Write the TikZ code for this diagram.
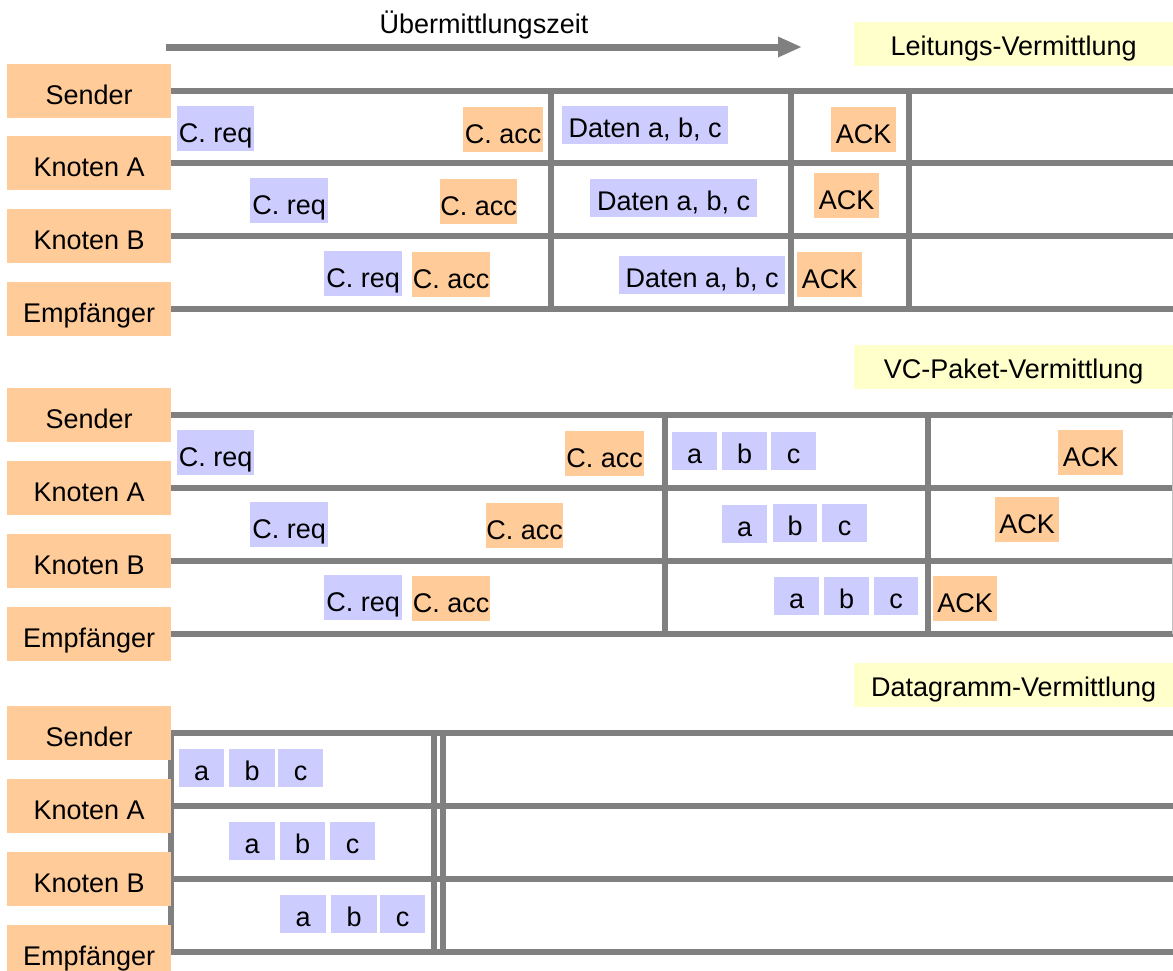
\documentclass[tikz,border=0pt]{standalone}
\usepackage{fontspec}
\setmainfont{Liberation Sans}
\usetikzlibrary{arrows.meta}

\definecolor{lanegray}{HTML}{808080}
\definecolor{peach}{HTML}{FFCC99}
\definecolor{lilac}{HTML}{CCCCFF}
\definecolor{pale}{HTML}{FFFFCC}

\tikzset{
  every node/.style={font=\fontsize{27pt}{32pt}\selectfont, inner sep=0pt},
  station/.style={fill=peach, minimum width=164pt, text height=40pt, text depth=14pt, anchor=west},
  lanes/.style={draw=lanegray, line width=6pt},
  tallmsg/.style={anchor=north west, text height=36pt, text depth=9pt},
  shortmsg/.style={anchor=north west, text height=31pt, text depth=7pt},
  reqbox/.style={fill=lilac},
  accbox/.style={fill=peach},
  heading/.style={fill=pale, minimum width=319pt, text height=33pt, text depth=11pt, anchor=north west},
}

\begin{document}
\begin{tikzpicture}[x=1pt,y=-1pt]
\useasboundingbox (0,0) rectangle (1173,970);
\coordinate (R) at (1173,0);

% time axis
\coordinate (t0) at (166,47);
\coordinate (t1) at (802,47);
\draw[draw=lanegray, line width=7pt, -{Triangle[length=24pt,width=19pt]}] (t0) -- (t1);
\node[anchor=base] (tlabel) at (484,33) {Übermittlungszeit};

% section headings
\node[heading] (h1) at (854,22) {Leitungs-Vermittlung};
\node[heading] (h2) at (854,345) {VC-Paket-Vermittlung};
\node[heading] (h3) at (854,663) {Datagramm-Vermittlung};

% ---------- circuit switching ----------
\coordinate (a1) at (7,91);  \coordinate (a2) at (7,163);
\coordinate (a3) at (7,236); \coordinate (a4) at (7,309);
\foreach \c in {a1,a2,a3,a4} \draw[lanes] (\c) ++(162,0) -- (\c -| R);
\foreach \x in {551,791,909} \draw[lanes] (\x,91) -- (\x,309);

\node[tallmsg,reqbox,minimum width=77pt] (q11) at (177,106) {C. req};
\node[tallmsg,accbox,minimum width=80pt] (k11) at (463,107) {C. acc};
\node[shortmsg,reqbox,minimum width=166pt] (d11) at (562,106) {Daten a, b, c};
\node[tallmsg,accbox,minimum width=65pt] (ack11) at (831,107) {ACK};

\node[tallmsg,reqbox,minimum width=78pt] (q12) at (250,178) {C. req};
\node[tallmsg,accbox,minimum width=77pt] (k12) at (440,179) {C. acc};
\node[shortmsg,reqbox,minimum width=167pt] (d12) at (590,179) {Daten a, b, c};
\node[tallmsg,accbox,minimum width=65pt] (ack12) at (814,173) {ACK};

\node[tallmsg,reqbox,minimum width=78pt] (q13) at (324,251) {C. req};
\node[tallmsg,accbox,minimum width=78pt] (k13) at (412,252) {C. acc};
\node[shortmsg,reqbox,minimum width=166pt] (d13) at (619,256) {Daten a, b, c};
\node[tallmsg,accbox,minimum width=65pt] (ack13) at (797,252) {ACK};

\node[station] (s1) at (a1) {Sender};
\node[station] (n1a) at (a2) {Knoten A};
\node[station] (n1b) at (a3) {Knoten B};
\node[station] (e1) at (a4) {Empfänger};

% ---------- virtual circuit packet switching ----------
\coordinate (b1) at (7,415); \coordinate (b2) at (7,488);
\coordinate (b3) at (7,561); \coordinate (b4) at (7,634);
\foreach \c in {b1,b2,b3,b4} \draw[lanes] (\c) ++(162,0) -- (\c -| R);
\foreach \x in {665,928} \draw[lanes] (\x,415) -- (\x,634);
\draw[lanegray!50, line width=1pt] (1172,415) -- (1172,634);

\node[tallmsg,reqbox,minimum width=77pt] (q21) at (177,430) {C. req};
\node[tallmsg,accbox,minimum width=79pt] (k21) at (565,431) {C. acc};
\node[shortmsg,reqbox,minimum width=45pt] (pa21) at (672,432) {a};
\node[shortmsg,reqbox,minimum width=45pt] (pb21) at (722,432) {b};
\node[shortmsg,reqbox,minimum width=45pt] (pc21) at (771,432) {c};
\node[tallmsg,accbox,minimum width=65pt] (ack21) at (1058,430) {ACK};

\node[tallmsg,reqbox,minimum width=78pt] (q22) at (250,502) {C. req};
\node[tallmsg,accbox,minimum width=77pt] (k22) at (486,503) {C. acc};
\node[shortmsg,reqbox,minimum width=45pt] (pa22) at (722,505) {a};
\node[shortmsg,reqbox,minimum width=44pt] (pb22) at (773,504) {b};
\node[shortmsg,reqbox,minimum width=45pt] (pc22) at (822,504) {c};
\node[tallmsg,accbox,minimum width=64pt] (ack22) at (995,497) {ACK};

\node[tallmsg,reqbox,minimum width=78pt] (q23) at (324,575) {C. req};
\node[tallmsg,accbox,minimum width=78pt] (k23) at (412,576) {C. acc};
\node[shortmsg,reqbox,minimum width=45pt] (pa23) at (774,577) {a};
\node[shortmsg,reqbox,minimum width=45pt] (pb23) at (824,577) {b};
\node[shortmsg,reqbox,minimum width=44pt] (pc23) at (874,577) {c};
\node[tallmsg,accbox,minimum width=64pt] (ack23) at (933,576) {ACK};

\node[station] (s2) at (b1) {Sender};
\node[station] (n2a) at (b2) {Knoten A};
\node[station] (n2b) at (b3) {Knoten B};
\node[station] (e2) at (b4) {Empfänger};

% ---------- datagram switching ----------
\coordinate (c1) at (7,733); \coordinate (c2) at (7,806);
\coordinate (c3) at (7,879); \coordinate (c4) at (7,952);
\foreach \c in {c1,c2,c3,c4} \draw[lanes] (\c) ++(162,0) -- (\c -| R);
\draw[lanes] (171,730) -- (171,955);
\foreach \x in {434,443} \draw[lanes] (\x,733) -- (\x,952);

\node[shortmsg,reqbox,minimum width=45pt] (pa31) at (179,749) {a};
\node[shortmsg,reqbox,minimum width=46pt] (pb31) at (229,749) {b};
\node[shortmsg,reqbox,minimum width=45pt] (pc31) at (278,749) {c};

\node[shortmsg,reqbox,minimum width=46pt] (pa32) at (229,822) {a};
\node[shortmsg,reqbox,minimum width=45pt] (pb32) at (280,822) {b};
\node[shortmsg,reqbox,minimum width=45pt] (pc32) at (330,822) {c};

\node[shortmsg,reqbox,minimum width=46pt] (pa33) at (280,895) {a};
\node[shortmsg,reqbox,minimum width=46pt] (pb33) at (331,895) {b};
\node[shortmsg,reqbox,minimum width=45pt] (pc33) at (380,895) {c};

\node[station] (s3) at (c1) {Sender};
\node[station] (n3a) at (c2) {Knoten A};
\node[station] (n3b) at (c3) {Knoten B};
\node[station] (e3) at (c4) {Empfänger};
\end{tikzpicture}
\end{document}
